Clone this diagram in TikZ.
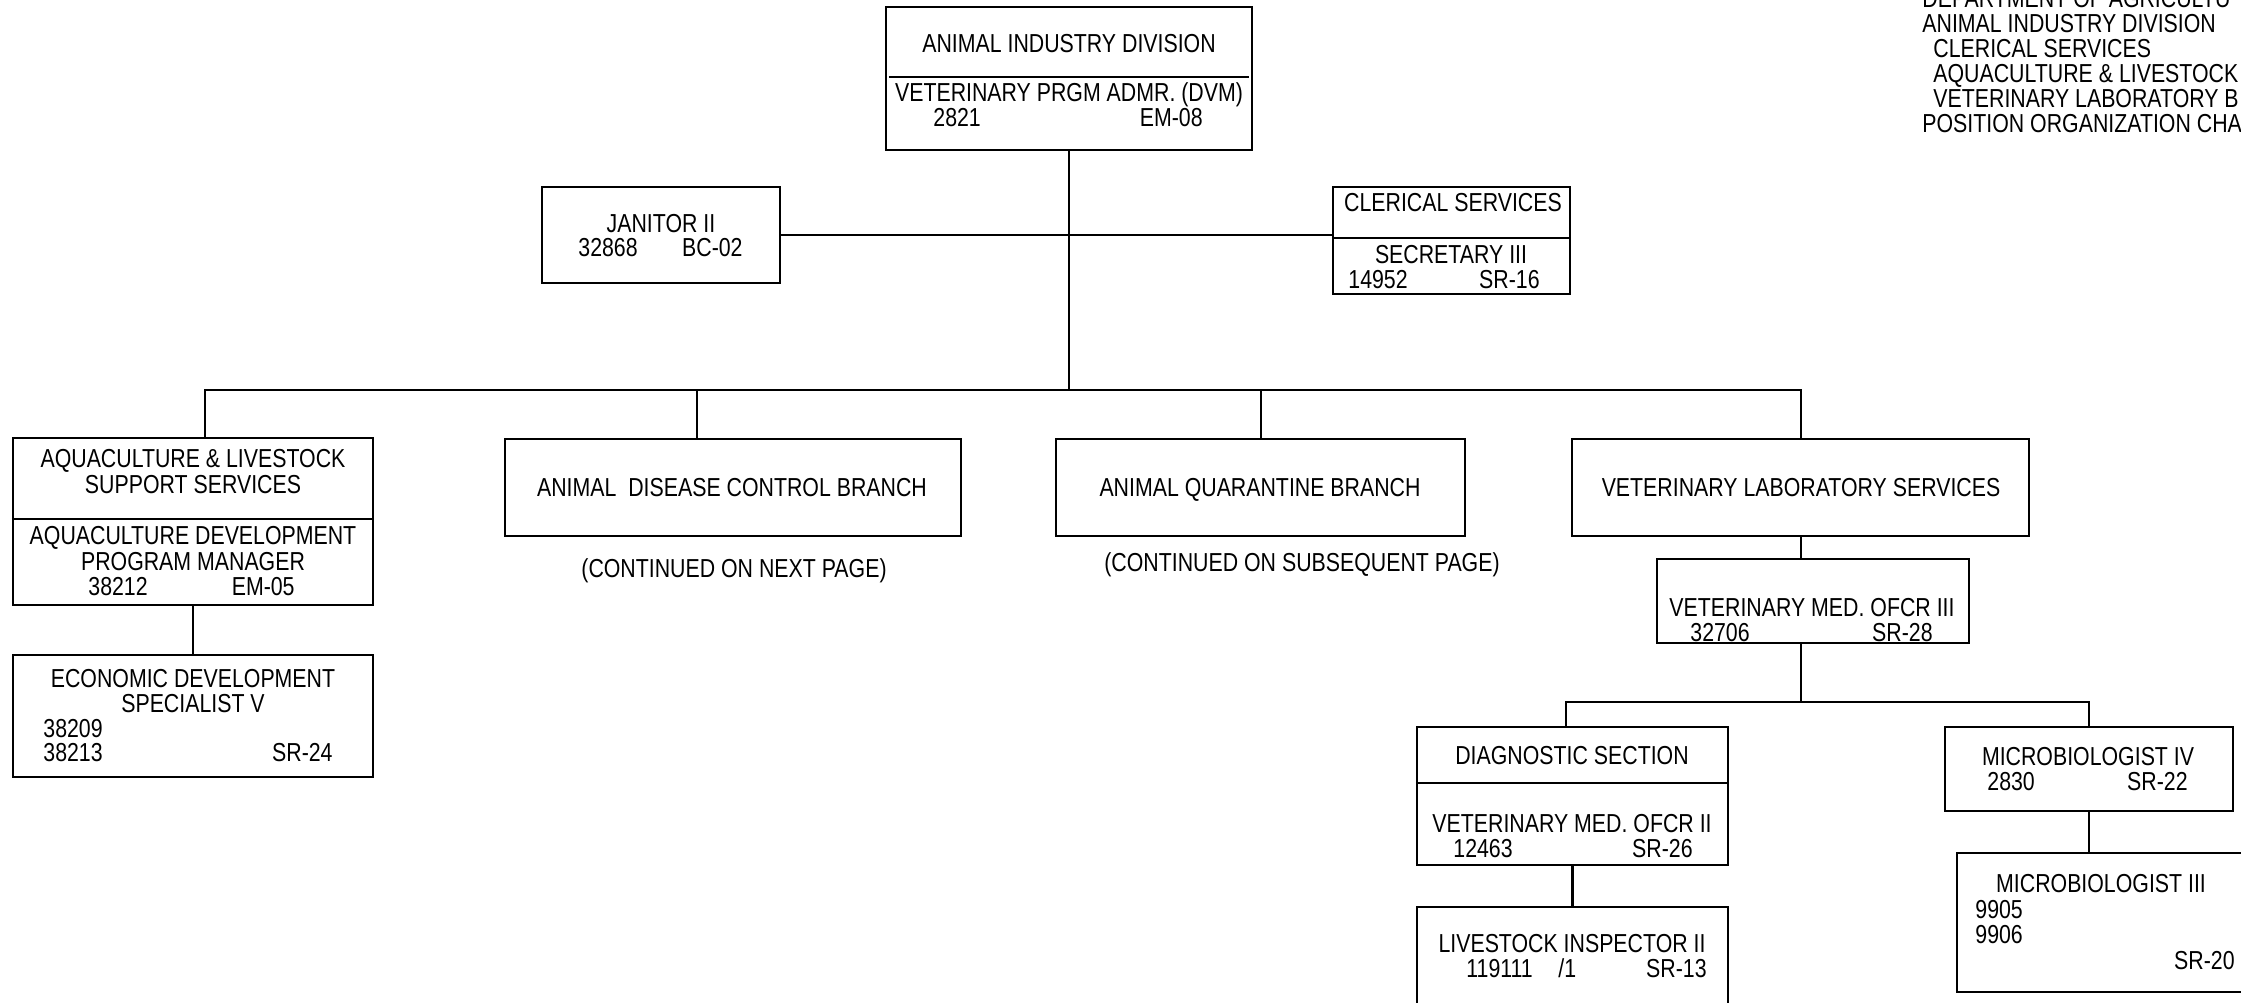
\documentclass[tikz,border=0pt]{standalone}
\usepackage{fontspec}
\setmainfont{Liberation Sans}[FakeStretch=0.82]
\begin{document}
\begin{tikzpicture}[x=0.5pt,y=-0.5pt,
  box/.style={draw,line width=1.2pt,inner sep=0pt,rectangle},
  lbl/.style={inner sep=0pt,font=\fontsize{13pt}{15pt}\selectfont,text height=9.3pt,text depth=0pt},
  conn/.style={line width=1.2pt},
  sepline/.style={line width=0.8pt}]
\useasboundingbox (0,0) rectangle (2241,1002);
\clip (0,0) rectangle (2241,1002);
% boxes
\node[box,minimum width=183pt,minimum height=71.5pt] (top) at (1069,78.5) {};
\node[box,minimum width=119pt,minimum height=48pt] (janitor) at (661,235) {};
\node[box,minimum width=118.5pt,minimum height=53.5pt] (clerical) at (1451.5,240.5) {};
\node[box,minimum width=180pt,minimum height=83.5pt] (aqua) at (193,521.5) {};
\node[box,minimum width=180pt,minimum height=61pt] (econ) at (193,716) {};
\node[box,minimum width=228pt,minimum height=48.5pt] (disease) at (733,487.5) {};
\node[box,minimum width=204.5pt,minimum height=48.5pt] (quarantine) at (1260.5,487.5) {};
\node[box,minimum width=228.5pt,minimum height=48.5pt] (vetlab) at (1800.5,487.5) {};
\node[box,minimum width=156pt,minimum height=42pt] (vmo3) at (1813,601) {};
\node[box,minimum width=155.5pt,minimum height=69pt] (diag) at (1572.5,796) {};
\node[box,minimum width=155.5pt,minimum height=66.5pt] (livestock) at (1572.5,973.5) {};
\node[box,minimum width=144pt,minimum height=42pt] (micro4) at (2089,769) {};
\node[box,minimum width=151.5pt,minimum height=69.5pt] (micro3) at (2108.5,922.5) {};
% separators
\draw[sepline] ([xshift=2pt]top.west |- 0,77) -- ([xshift=-2pt]top.east |- 0,77);
\draw[sepline] (clerical.west |- 0,238) -- (clerical.east |- 0,238);
\draw[sepline] (aqua.west |- 0,519) -- (aqua.east |- 0,519);
\draw[sepline] (diag.west |- 0,783) -- (diag.east |- 0,783);
% connectors
\coordinate (busc) at (1069,390);
\coordinate (busl) at (205,390);
\coordinate (busr) at (1801,390);
\coordinate (bus2c) at (1801,702);
\draw[conn] (top.south) -- (busc);
\draw[conn] (janitor.east) -- (janitor.east -| clerical.west);
\draw[conn] (aqua.north -| busl) -- (busl) -- (busr) -- (vetlab.north -| busr);
\draw[conn] (disease.north -| 697,0) -- (697,390);
\draw[conn] (quarantine.north -| 1261,0) -- (1261,390);
\draw[conn] (aqua.south) -- (econ.north);
\draw[conn] (vetlab.south -| busr) -- (vmo3.north -| busr);
\draw[conn] (vmo3.south -| busr) -- (bus2c);
\draw[conn] (diag.north -| 1566,0) |- (micro4.north |- bus2c) -- (micro4.north);
\draw[conn] (diag.south) -- (livestock.north);
\draw[conn] (micro4.south) -- (micro3.north -| micro4.south);
% texts: top
\node[lbl] (t1) at (1069,43) {ANIMAL INDUSTRY DIVISION};
\node[lbl] (t2) at (1069,92) {VETERINARY PRGM ADMR. (DVM)};
\node[lbl,anchor=west] (t3) at (933,117) {2821};
\node[lbl,anchor=east] (t4) at (1203,117) {EM-08};
% janitor
\node[lbl] (j1) at (661,223) {JANITOR II};
\node[lbl,anchor=west] (j2) at (578,247) {32868};
\node[lbl,anchor=east] (j3) at (743,247) {BC-02};
% clerical
\node[lbl] (c1) at (1453,202) {CLERICAL SERVICES};
\node[lbl] (c2) at (1451,254) {SECRETARY III};
\node[lbl,anchor=west] (c3) at (1348,279) {14952};
\node[lbl,anchor=east] (c4) at (1540,279) {SR-16};
% aquaculture
\node[lbl] (a1) at (193,458) {AQUACULTURE \& LIVESTOCK};
\node[lbl] (a2) at (193,484) {SUPPORT SERVICES};
\node[lbl] (a3) at (193,535) {AQUACULTURE DEVELOPMENT};
\node[lbl] (a4) at (193,561) {PROGRAM MANAGER};
\node[lbl,anchor=west] (a5) at (88,586) {38212};
\node[lbl,anchor=east] (a6) at (295,586) {EM-05};
% economic
\node[lbl] (e1) at (193,678) {ECONOMIC DEVELOPMENT};
\node[lbl] (e2) at (193,703) {SPECIALIST V};
\node[lbl,anchor=west] (e3) at (43,728) {38209};
\node[lbl,anchor=west] (e4) at (43,752) {38213};
\node[lbl,anchor=east] (e5) at (333,752) {SR-24};
% branches
\node[lbl] (d1) at (732,487) {ANIMAL\ \ DISEASE CONTROL BRANCH};
\node[lbl] (d2) at (734,568) {(CONTINUED ON NEXT PAGE)};
\node[lbl] (q1) at (1260,487) {ANIMAL QUARANTINE BRANCH};
\node[lbl] (q2) at (1302,562) {(CONTINUED ON SUBSEQUENT PAGE)};
\node[lbl] (v1) at (1801,487) {VETERINARY LABORATORY SERVICES};
% vmo3
\node[lbl] (m1) at (1812,607) {VETERINARY MED. OFCR III};
\node[lbl,anchor=west] (m2) at (1690,632) {32706};
\node[lbl,anchor=east] (m3) at (1933,632) {SR-28};
% diagnostic
\node[lbl] (g1) at (1572,755) {DIAGNOSTIC SECTION};
\node[lbl] (g2) at (1572,823) {VETERINARY MED. OFCR II};
\node[lbl,anchor=west] (g3) at (1453,848) {12463};
\node[lbl,anchor=east] (g4) at (1693,848) {SR-26};
% livestock
\node[lbl] (l1) at (1572,943) {LIVESTOCK INSPECTOR II};
\node[lbl,anchor=west] (l2) at (1466,968) {119111};
\node[lbl,anchor=west] (l3) at (1558,968) {/1};
\node[lbl,anchor=east] (l4) at (1707,968) {SR-13};
% micro4
\node[lbl] (k1) at (2088,756) {MICROBIOLOGIST IV};
\node[lbl,anchor=west] (k2) at (1987,781) {2830};
\node[lbl,anchor=east] (k3) at (2188,781) {SR-22};
% micro3
\node[lbl] (n1) at (2101,883) {MICROBIOLOGIST III};
\node[lbl,anchor=west] (n2) at (1975,909) {9905};
\node[lbl,anchor=west] (n3) at (1975,934) {9906};
\node[lbl,anchor=east] (n4) at (2235,960) {SR-20};
% header
\node[lbl,anchor=west] (h1) at (1922,-2) {DEPARTMENT OF AGRICULTU};
\node[lbl,anchor=west] (h2) at (1922,23) {ANIMAL INDUSTRY DIVISION};
\node[lbl,anchor=west] (h3) at (1933,48) {CLERICAL SERVICES};
\node[lbl,anchor=west] (h4) at (1933,73) {AQUACULTURE \& LIVESTOCK};
\node[lbl,anchor=west] (h5) at (1933,98) {VETERINARY LABORATORY B};
\node[lbl,anchor=west] (h6) at (1922,123) {POSITION ORGANIZATION CHA};
\end{tikzpicture}
\end{document}
